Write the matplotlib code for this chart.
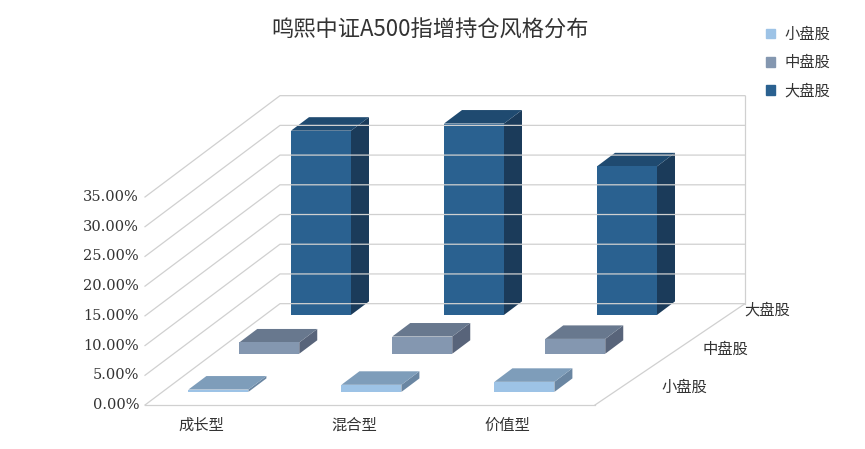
import matplotlib.pyplot as plt
from matplotlib.patches import Polygon, Patch

plt.rcParams["font.family"] = ["Noto Sans CJK SC"]

categories = ["成长型", "混合型", "价值型"]
series = ["小盘股", "中盘股", "大盘股"]
small_vals = [0.4, 1.2, 1.7]
mid_vals = [1.9, 2.9, 2.5]
large_vals = [31.0, 32.2, 25.0]
yticks = [0, 5, 10, 15, 20, 25, 30, 35]

face_c = ["#9DC3E6", "#8497B0", "#2A6190"]
top_c = ["#7E9DBA", "#68788E", "#1F4A70"]
side_c = ["#6A86A2", "#58647A", "#1B3B5A"]

# pseudo-3D geometry in pixel space
K = (405 - 197) / 35.0
X0, Y0 = 145, 405
DX, DY = 150, -112.6
WALL_DEPTH = 0.9
BACK_W = 465
ROW_DEPTH = [0.116, 0.455, 0.8]
BAR_D = 0.12
BAR_W = 60
CAT_X0, CAT_STEP = 171, 153


def pt(x, v, d):
    return (x + DX * d, Y0 - K * v + DY * d)


fig = plt.figure(figsize=(8.65, 4.49), dpi=100)
ax = fig.add_axes([0, 0, 1, 1])
ax.set_xlim(0, 865)
ax.set_ylim(449, 0)
ax.axis("off")

grid = "#D0D0D0"
bx, by = pt(X0, 0, WALL_DEPTH)
for v in yticks:
    a = pt(X0, v, 0)
    b = pt(X0, v, WALL_DEPTH)
    ax.plot([a[0], b[0], b[0] + BACK_W], [a[1], b[1], b[1]], color=grid, lw=0.9)
    ax.text(a[0] - 6, a[1], f"{v:.2f}%", ha="right", va="center",
            fontsize=10.5, family="DejaVu Serif", color="#333333")
# floor front and right edge
fx_end = X0 + BACK_W - DX * WALL_DEPTH + 120
ax.plot([X0, fx_end], [Y0, Y0], color=grid, lw=0.9)
ax.plot([fx_end, bx + BACK_W], [Y0, by], color=grid, lw=0.9)
ax.plot([bx + BACK_W, bx + BACK_W], [by, by - K * 35], color=grid, lw=0.9)

for i, c in enumerate(categories):
    ax.text(CAT_X0 + CAT_STEP * i + 30, 425, c, ha="center", va="center",
            fontsize=11, color="#333333")

for r, s in enumerate(series):
    lx, ly = pt(fx_end + 10, 0, ROW_DEPTH[r] + BAR_D / 2)
    ax.text(lx + 30 - 10 * r, ly + 2, s, ha="left", va="center", fontsize=11, color="#333333")

rows = [small_vals, mid_vals, large_vals]
for r in [2, 1, 0]:
    d0 = ROW_DEPTH[r]
    d1 = d0 + BAR_D
    for i, v in enumerate(rows[r]):
        x = CAT_X0 + CAT_STEP * i
        front = [pt(x, 0, d0), pt(x + BAR_W, 0, d0), pt(x + BAR_W, v, d0), pt(x, v, d0)]
        top = [pt(x, v, d0), pt(x + BAR_W, v, d0), pt(x + BAR_W, v, d1), pt(x, v, d1)]
        side = [pt(x + BAR_W, 0, d0), pt(x + BAR_W, 0, d1), pt(x + BAR_W, v, d1), pt(x + BAR_W, v, d0)]
        ax.add_patch(Polygon(side, closed=True, fc=side_c[r], ec="none"))
        ax.add_patch(Polygon(top, closed=True, fc=top_c[r], ec="none"))
        ax.add_patch(Polygon(front, closed=True, fc=face_c[r], ec="none"))

ax.text(430, 30, "鸣熙中证A500指增持仓风格分布", ha="center", va="center",
        fontsize=16, color="#333333")

handles = [Patch(color=face_c[r], label=series[r]) for r in range(3)]
fig.legend(handles=handles, loc="upper left", bbox_to_anchor=(752 / 865, 1 - 12 / 449),
           frameon=False, fontsize=11, handlelength=0.6, handleheight=0.6,
           labelspacing=0.75, handletextpad=0.6, labelcolor="#333333")

fig.savefig("out.png", dpi=100)
